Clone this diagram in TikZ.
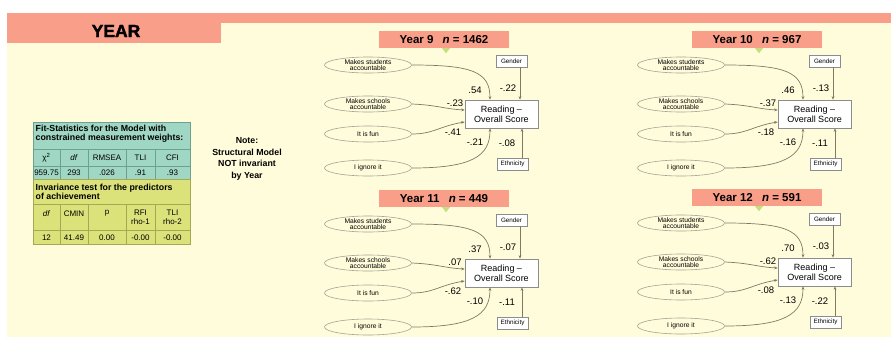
\documentclass[tikz,border=0pt]{standalone}
\usepackage{fontspec}
\setmainfont{Liberation Sans}
\newfontfamily\heavyfont[FakeBold=2]{Liberation Sans Bold}
\usetikzlibrary{arrows.meta,shapes.geometric}
\definecolor{cream}{RGB}{255,252,219}
\definecolor{salmon}{RGB}{249,158,136}
\definecolor{tealc}{RGB}{160,214,196}
\definecolor{ylw}{RGB}{220,226,122}
\definecolor{tline}{RGB}{110,160,145}
\definecolor{yline}{RGB}{165,168,85}
\definecolor{trig}{RGB}{196,222,128}
\definecolor{lnc}{RGB}{128,122,100}
\definecolor{ellc}{RGB}{165,163,150}
\definecolor{boxc}{RGB}{140,140,140}
\tikzset{
  ell/.style={ellipse, draw=ellc, line width=0.6pt, fill=cream, minimum width=87pt, minimum height=16pt, inner sep=0pt, align=center, font=\fontsize{6.7}{6.4}\selectfont},
  obox/.style={rectangle, draw=boxc, line width=0.6pt, fill=white, minimum width=31pt, minimum height=12pt, inner sep=0pt, font=\fontsize{6.3}{7}\selectfont},
  rbox/.style={rectangle, draw=boxc, line width=0.6pt, fill=white, minimum width=73pt, minimum height=28pt, inner sep=0pt, align=center, font=\fontsize{9}{10}\selectfont},
  ttl/.style={fill=salmon, minimum width=130pt, minimum height=17pt, inner sep=0pt, font=\fontsize{11.5}{12}\selectfont\bfseries},
  lab/.style={inner sep=0pt, font=\fontsize{9.5}{10}\selectfont},
  conn/.style={draw=lnc, line width=0.7pt, -{Stealth[length=3.5pt,width=2.8pt]}},
  cell/.style={inner sep=0pt, font=\fontsize{8}{9}\selectfont, align=center},
  thead/.style={inner sep=0pt, font=\fontsize{8.8}{9}\selectfont\bfseries, align=left, anchor=north west},
}
\newcommand{\sempanel}[8]{%
  \node[ttl] (T#1) at (444,39.5) {Year #1\hspace{0.8em}\textit{n} = #2};
  \fill[trig] ([xshift=-2pt]T#1.south) -- ([xshift=6pt]T#1.south) -- ([xshift=2pt,yshift=-5pt]T#1.south) -- cycle;
  \node[ell] (S#1) at (368,65) {Makes students\\accountable};
  \node[ell] (C#1) at (368,104) {Makes schools\\accountable};
  \node[ell] (F#1) at (368,134) {It is fun};
  \node[ell] (I#1) at (368,168) {I ignore it};
  \node[obox] (G#1) at (511.5,61) {Gender};
  \node[rbox] (R#1) at (501.5,114) {Reading –\\Overall Score};
  \node[obox] (E#1) at (512.5,164) {Ethnicity};
  \draw[conn] (S#1.east) .. controls +(60,0) and +(0,-28) .. ([xshift=-11.5pt]R#1.north);
  \draw[conn] (C#1.east) .. controls +(25,1) and +(-20,-1) .. ([yshift=4pt]R#1.west);
  \draw[conn] (F#1.east) .. controls +(22,0) and +(-25,4) .. ([yshift=-8pt]R#1.west);
  \draw[conn] (I#1.east) .. controls +(60,0) and +(0,28) .. ([xshift=-11.5pt]R#1.south);
  \draw[conn] ([xshift=8.5pt]G#1.south) -- ([xshift=8.5pt]G#1.south |- R#1.north);
  \draw[conn] ([xshift=9.5pt]E#1.north) -- ([xshift=9.5pt]E#1.north |- R#1.south);
  \node[lab] (La#1) at (475,90) {#3};
  \node[lab] (Lb#1) at (508,88) {#4};
  \node[lab] (Lc#1) at (455,103) {#5};
  \node[lab] (Ld#1) at (453,132) {#6};
  \node[lab] (Le#1) at (475,142) {#7};
  \node[lab] (Lf#1) at (507,143) {#8};
}
\begin{document}
\begin{tikzpicture}[x=1pt,y=-1pt]
\useasboundingbox (0,0) rectangle (891,338);
\fill[white] (0,0) rectangle (891,338);
% background panel and header band
\fill[cream] (7,13) rectangle (891,337);
\fill[salmon] (7,13) rectangle (891,23);
\fill[salmon] (7,13) rectangle (221,43);
\node[inner sep=0pt, font=\fontsize{17.5}{18}\heavyfont] (year) at (116,31) {YEAR};
% fit statistics table
\fill[tealc] (33,122) rectangle (190,179);
\fill[ylw] (33,179) rectangle (190,244);
\draw[tline, line width=0.6pt] (33,122) rectangle (190,179);
\draw[tline, line width=0.6pt] (33,149) -- (190,149) (33,166) -- (190,166);
\foreach \xx in {60,88,126,155} \draw[tline, line width=0.6pt] (\xx,149) -- (\xx,179);
\draw[yline, line width=0.6pt] (33,179) rectangle (190,244);
\draw[yline, line width=0.6pt] (33,204) -- (190,204) (33,230) -- (190,230);
\foreach \xx in {60,88,126,155} \draw[yline, line width=0.6pt] (\xx,204) -- (\xx,244);
\node[thead] (fit) at (35.5,124.5) {Fit-Statistics for the Model with\\constrained measurement weights:};
\node[cell] (h1) at (46.5,158) {χ\textsuperscript{2}};
\node[cell] (h2) at (74,158) {\textit{df}};
\node[cell] (h3) at (107,158) {RMSEA};
\node[cell] (h4) at (140.5,158) {TLI};
\node[cell] (h5) at (172.5,158) {CFI};
\node[cell] (v1) at (46.5,172.5) {959.75};
\node[cell] (v2) at (74,172.5) {293};
\node[cell] (v3) at (107,172.5) {.026};
\node[cell] (v4) at (140.5,172.5) {.91};
\node[cell] (v5) at (172.5,172.5) {.93};
\node[thead] (inv) at (35.5,183.5) {Invariance test for the predictors\\of achievement};
\node[cell] (k1) at (46.5,213.5) {\textit{df}};
\node[cell] (k2) at (74,213.5) {CMIN};
\node[cell] (k3) at (107,213.5) {p};
\node[cell] (k4) at (140.5,217.5) {RFI\\rho-1};
\node[cell] (k5) at (172.5,217.5) {TLI\\rho-2};
\node[cell] (w1) at (46.5,237.5) {12};
\node[cell] (w2) at (74,237.5) {41.49};
\node[cell] (w3) at (107,237.5) {0.00};
\node[cell] (w4) at (140.5,237.5) {-0.00};
\node[cell] (w5) at (172.5,237.5) {-0.00};
% note
\node[inner sep=0pt, align=center, font=\fontsize{8.8}{11.5}\selectfont\bfseries] (note) at (247,159) {Note:\\Structural Model\\NOT invariant\\by Year};
% panels
\begin{scope}
  \sempanel{9}{1462}{.54}{-.22}{-.23}{-.41}{-.21}{-.08}
\end{scope}
\begin{scope}[shift={(313,0)}]
  \sempanel{10}{967}{.46}{-.13}{-.37}{-.18}{-.16}{-.11}
\end{scope}
\begin{scope}[shift={(0,159)}]
  \sempanel{11}{449}{.37}{-.07}{.07}{-.62}{-.10}{-.11}
\end{scope}
\begin{scope}[shift={(313,158)}]
  \sempanel{12}{591}{.70}{-.03}{-.62}{-.08}{-.13}{-.22}
\end{scope}
\end{tikzpicture}
\end{document}
